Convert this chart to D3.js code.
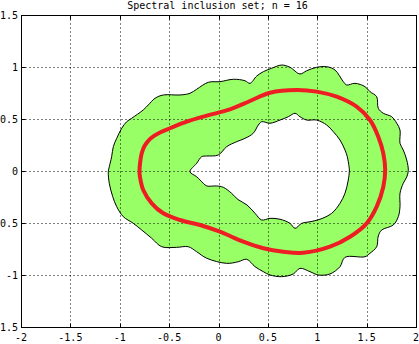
<!DOCTYPE html>
<html><head><meta charset="utf-8">
<script src="https://cdn.jsdelivr.net/npm/d3@7"></script>
<style>html,body{margin:0;padding:0;background:#fff}svg{display:block}</style>
</head><body><svg id="c" width="419" height="344"></svg>
<script>
const title = "Spectral inclusion set; n = 16";
const xTicks = [-2, -1.5, -1, -0.5, 0, 0.5, 1, 1.5, 2];
const xTickLabels = ["-2", "-1.5", "-1", "-0.5", "0", "0.5", "1", "1.5", "2"];
const yTicks = [-1.5, -1, -0.5, 0, 0.5, 1, 1.5];
const yTickLabels = ["-1.5", "-1", "-0.5", "0", "0.5", "1", "1.5"];

// outer boundary of the inclusion set (x, y)
const outerBoundary = [
  [-1.116,-0.007],[-1.106,0.041],[-1.082,0.138],[-1.065,0.234],[-1.031,0.314],[-0.980,0.411],
  [-0.930,0.474],[-0.879,0.507],[-0.762,0.587],[-0.711,0.635],[-0.643,0.699],[-0.559,0.731],
  [-0.390,0.731],[-0.289,0.747],[-0.221,0.786],[-0.103,0.853],[0.015,0.859],[0.150,0.882],
  [0.268,0.868],[0.319,0.843],[0.387,0.913],[0.454,0.955],[0.539,0.988],[0.640,1.019],
  [0.724,0.997],[0.825,0.933],[0.893,0.964],[0.994,0.997],[1.096,1.003],[1.180,0.971],
  [1.264,0.859],[1.298,0.827],[1.382,0.843],[1.484,0.811],[1.534,0.763],[1.602,0.714],
  [1.618,0.603],[1.669,0.555],[1.754,0.522],[1.805,0.459],[1.838,0.394],[1.838,0.266],
  [1.871,0.202],[1.906,0.106],[1.922,0.005],[1.906,-0.058],[1.871,-0.118],[1.838,-0.214],
  [1.838,-0.343],[1.821,-0.439],[1.770,-0.519],[1.653,-0.567],[1.618,-0.625],[1.602,-0.728],
  [1.534,-0.791],[1.484,-0.824],[1.281,-0.830],[1.230,-0.920],[1.129,-0.990],[1.011,-1.000],
  [0.927,-0.968],[0.825,-0.936],[0.757,-0.990],[0.640,-1.016],[0.522,-1.000],[0.454,-0.968],
  [0.370,-0.920],[0.286,-0.849],[0.201,-0.872],[0.083,-0.888],[-0.119,-0.839],[-0.221,-0.776],
  [-0.306,-0.728],[-0.423,-0.734],[-0.575,-0.728],[-0.676,-0.647],[-0.778,-0.567],[-0.863,-0.503],
  [-0.964,-0.439],[-1.031,-0.343],[-1.071,-0.247],[-1.106,-0.118]
];

// inner boundary (hole) of the inclusion set
const innerBoundary = [
  [-0.289,-0.007],[-0.221,0.074],[-0.170,0.138],[-0.119,0.144],[-0.002,0.154],[0.083,0.234],
  [0.184,0.282],[0.268,0.314],[0.352,0.363],[0.403,0.442],[0.437,0.474],[0.522,0.459],
  [0.623,0.490],[0.707,0.522],[0.775,0.555],[0.825,0.522],[0.893,0.490],[0.994,0.490],
  [1.096,0.442],[1.163,0.378],[1.230,0.298],[1.281,0.202],[1.304,0.138],[1.322,0.041],
  [1.325,0.000],[1.314,-0.087],[1.281,-0.214],[1.230,-0.311],[1.146,-0.407],[1.028,-0.464],
  [0.927,-0.488],[0.843,-0.503],[0.775,-0.551],[0.724,-0.503],[0.623,-0.464],[0.522,-0.455],
  [0.437,-0.471],[0.370,-0.407],[0.289,-0.327],[0.197,-0.274],[0.132,-0.214],[0.049,-0.157],
  [-0.018,-0.144],[-0.119,-0.144],[-0.154,-0.118],[-0.221,-0.055]
];

// red curve
const redCurve = [
  [-0.800,0.000],[-0.793,0.087],[-0.777,0.173],[-0.749,0.240],[-0.709,0.293],[-0.653,0.337],
  [-0.582,0.375],[-0.491,0.411],[-0.322,0.474],[-0.119,0.532],[0.116,0.593],[0.319,0.673],
  [0.522,0.753],[0.792,0.779],[0.994,0.763],[1.197,0.714],[1.399,0.618],[1.534,0.490],
  [1.618,0.330],[1.669,0.170],[1.688,0.010],[1.669,-0.151],[1.602,-0.343],[1.501,-0.503],
  [1.332,-0.632],[1.129,-0.728],[0.859,-0.786],[0.656,-0.776],[0.454,-0.743],[0.251,-0.680],
  [0.116,-0.625],[0.015,-0.584],[-0.187,-0.519],[-0.390,-0.471],[-0.559,-0.407],[-0.676,-0.311],
  [-0.762,-0.183],[-0.795,-0.058]
];

const svg = d3.select("#c");
const x = d3.scaleLinear().domain([-2, 2]).range([21, 416]);
const y = d3.scaleLinear().domain([-1.5, 1.5]).range([327, 15]);
const font = "'DejaVu Sans Mono', monospace";

svg.append("rect").attr("width", 419).attr("height", 344).attr("fill", "#fff");

// green set
const lineOuter = d3.line().x(d => x(d[0])).y(d => y(d[1])).curve(d3.curveCatmullRomClosed.alpha(0.5));
svg.append("path")
  .attr("d", lineOuter(outerBoundary) + lineOuter(innerBoundary))
  .attr("fill", "#99ff66").attr("fill-rule", "evenodd")
  .attr("stroke", "#000").attr("stroke-width", 1);

// grid
const px = v => Math.round(x(v)) + 0.5;
const py = v => Math.round(y(v)) + 0.5;
const g = svg.append("g");
g.selectAll("line.vx").data(xTicks.slice(1, -1)).enter().append("line")
  .attr("x1", d => px(d)).attr("x2", d => px(d)).attr("y1", 15.5).attr("y2", 327.5)
  .attr("stroke", "#000").attr("stroke-dasharray", "1,3");
g.selectAll("line.hy").data(yTicks.slice(1, -1)).enter().append("line")
  .attr("y1", d => py(d)).attr("y2", d => py(d)).attr("x1", 21.5).attr("x2", 416.5)
  .attr("stroke", "#000").attr("stroke-dasharray", "1,3");

// red curve
const lineRed = d3.line().x(d => x(d[0])).y(d => y(d[1])).curve(d3.curveCatmullRomClosed.alpha(0.5));
svg.append("path").attr("d", lineRed(redCurve))
  .attr("fill", "none").attr("stroke", "#ee1d24").attr("stroke-width", 4);

// axes box
svg.append("rect").attr("x", 21.5).attr("y", 15.5).attr("width", 395).attr("height", 312)
  .attr("fill", "none").attr("stroke", "#000").attr("stroke-width", 1);

// ticks
const t = svg.append("g").attr("stroke", "#000");
xTicks.forEach(v => {
  t.append("line").attr("x1", px(v)).attr("x2", px(v)).attr("y1", 327.5).attr("y2", 323.5);
  t.append("line").attr("x1", px(v)).attr("x2", px(v)).attr("y1", 15.5).attr("y2", 19.5);
});
yTicks.forEach(v => {
  t.append("line").attr("y1", py(v)).attr("y2", py(v)).attr("x1", 21.5).attr("x2", 25.5);
  t.append("line").attr("y1", py(v)).attr("y2", py(v)).attr("x1", 416.5).attr("x2", 412.5);
});

// labels
svg.selectAll("text.xl").data(xTicks).enter().append("text")
  .attr("x", d => x(d)).attr("y", 341).attr("text-anchor", "middle")
  .attr("font-family", font).attr("font-size", 10).text((d, i) => xTickLabels[i]);
svg.selectAll("text.yl").data(yTicks).enter().append("text")
  .attr("x", 18).attr("y", d => y(d) + 4).attr("text-anchor", "end")
  .attr("font-family", font).attr("font-size", 10).text((d, i) => yTickLabels[i]);

svg.append("text").attr("x", 217.5).attr("y", 9).attr("text-anchor", "middle")
  .attr("font-family", font).attr("font-size", 10).text(title);
</script></body></html>
